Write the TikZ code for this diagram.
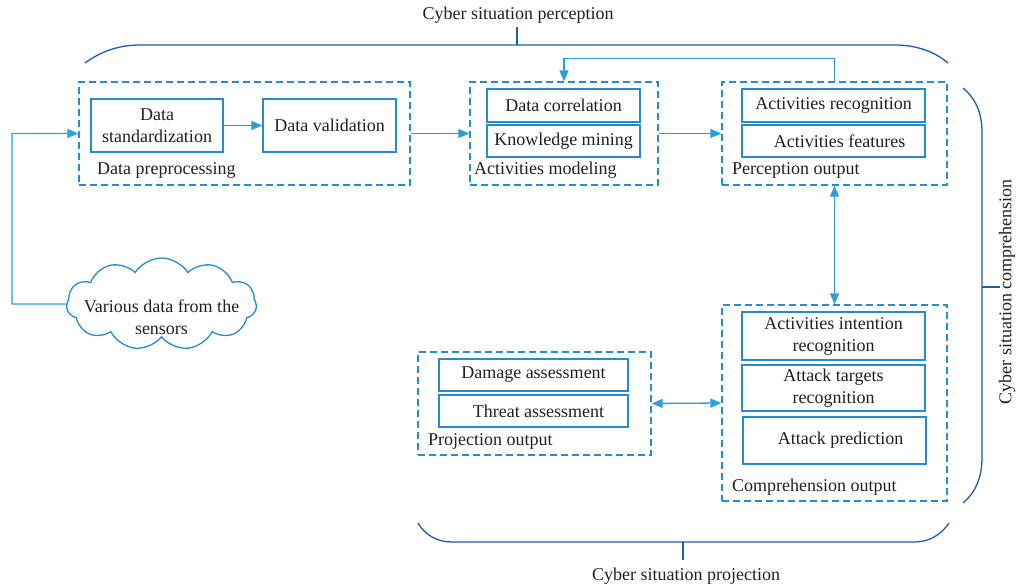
\documentclass[tikz,border=0pt]{standalone}
\usepackage{fontspec}
\setmainfont{Liberation Serif}
\usetikzlibrary{arrows.meta,shapes.symbols}
\definecolor{boxblue}{RGB}{38,140,204}
\definecolor{arrblue}{RGB}{41,160,221}
\definecolor{braceblue}{RGB}{30,94,168}
\definecolor{ink}{RGB}{35,31,32}
\tikzset{
  every node/.style={font=\fontsize{18}{22}\selectfont, text=ink},
  group/.style={draw=boxblue, line width=1.3pt, dash pattern=on 7pt off 4pt, inner sep=0pt},
  stepbox/.style={draw=boxblue, line width=1.4pt, inner sep=0pt, align=center},
  grplabel/.style={anchor=west, inner sep=0pt},
  tip/.style={Triangle[length=11pt,width=9pt]},
  arr/.style={draw=arrblue, line width=1.3pt, -{Triangle[length=11pt,width=9pt]}},
  darr/.style={draw=arrblue, line width=1.3pt, {Triangle[length=11pt,width=9pt]}-{Triangle[length=11pt,width=9pt]}},
  brace/.style={draw=braceblue, line width=1.3pt},
  bracelabel/.style={inner sep=0pt}
}
\begin{document}
\begin{tikzpicture}[x=1pt,y=-1pt]
\useasboundingbox (0,0) rectangle (1016,588);

% dashed groups
\node[group, minimum width=331, minimum height=103] (pre)  at (244.5,133.5) {};
\node[group, minimum width=188, minimum height=103] (mod)  at (564,133.5) {};
\node[group, minimum width=225, minimum height=103] (perc) at (834.5,133.5) {};
\node[group, minimum width=225, minimum height=196] (comp) at (834.5,403) {};
\node[group, minimum width=233, minimum height=103] (proj) at (534.5,403.5) {};

% group captions
\node[grplabel] (prelab)  at (97,170) {Data preprocessing};
\node[grplabel] (modlab)  at (474,170) {Activities modeling};
\node[grplabel] (perclab) at (732,170) {Perception output};
\node[grplabel] (projlab) at (428,441) {Projection output};
\node[grplabel] (complab) at (732,487) {Comprehension output};

% inner steps
\node[stepbox, minimum width=132, minimum height=53] (std)  at (157,125.5) {Data\\standardization};
\node[stepbox, minimum width=133, minimum height=53] (val)  at (329.5,125.5) {Data validation};
\node[stepbox, minimum width=153, minimum height=33] (corr) at (563.5,105.5) {Data correlation};
\node[stepbox, minimum width=153, minimum height=32] (know) at (563.5,141) {Knowledge mining};
\node[stepbox, minimum width=183, minimum height=33] (rec)  at (833.5,105.5) {Activities recognition};
\node[stepbox, minimum width=183, minimum height=32] (feat) at (833.5,141) {\hspace{12pt}Activities features};
\node[stepbox, minimum width=183, minimum height=48] (intent) at (833.5,336) {Activities intention\\recognition};
\node[stepbox, minimum width=183, minimum height=46] (targ) at (833.5,388) {Attack targets\\recognition};
\node[stepbox, minimum width=183, minimum height=47] (pred) at (834.5,440.5) {\hspace{12pt}Attack prediction};
\node[stepbox, minimum width=189, minimum height=32] (dmg) at (533.5,375) {Damage assessment};
\node[stepbox, minimum width=189, minimum height=32] (thr) at (533.5,411) {\hspace{10pt}Threat assessment};

% sensor cloud
\node[cloud, draw=boxblue, line width=1.3pt, cloud puffs=11, cloud puff arc=115, aspect=2,
      minimum width=190, minimum height=92, inner sep=0pt] (cloud) at (161.5,304) {};
\node[align=center, inner sep=0pt] (cloudtxt) at (161.5,317) {Various data from the\\sensors};

% connectors
\coordinate (feed) at (12,304);
\draw[arr] (cloud.west) -- (feed) |- (pre.west);
\draw[arr] (std.east) -- (val.west);
\draw[arr] (pre.east) -- (mod.west);
\draw[arr] (mod.east) -- (perc.west);
\draw[arr] (perc.north) -- ++(0,-23) -| (mod.north);
\draw[darr] (perc.south) -- (comp.north);
\draw[darr] (proj.east) -- (comp.west);

% braces
\draw[brace] (85,63) .. controls (100,52) and (118,45) .. (140,45) -- (895,45)
  .. controls (917,45) and (935,52) .. (948,63);
\draw[brace] (517,45) -- (517,27);
\node[bracelabel] (perception) at (518,15) {Cyber situation perception};

\draw[brace] (963,88) .. controls (975,98) and (982,112) .. (982,132) -- (982,458)
  .. controls (982,478) and (975,493) .. (963,503);
\draw[brace] (982,287) -- (1000,287);
\node[bracelabel, rotate=90] (comprehension) at (1007,292) {Cyber situation comprehension};

\draw[brace] (418,523) .. controls (425,535) and (437,542) .. (452,542) -- (914,542)
  .. controls (929,542) and (941,535) .. (949,523);
\draw[brace] (683,542) -- (683,560);
\node[bracelabel] (projection) at (686,576) {Cyber situation projection};
\end{tikzpicture}
\end{document}
